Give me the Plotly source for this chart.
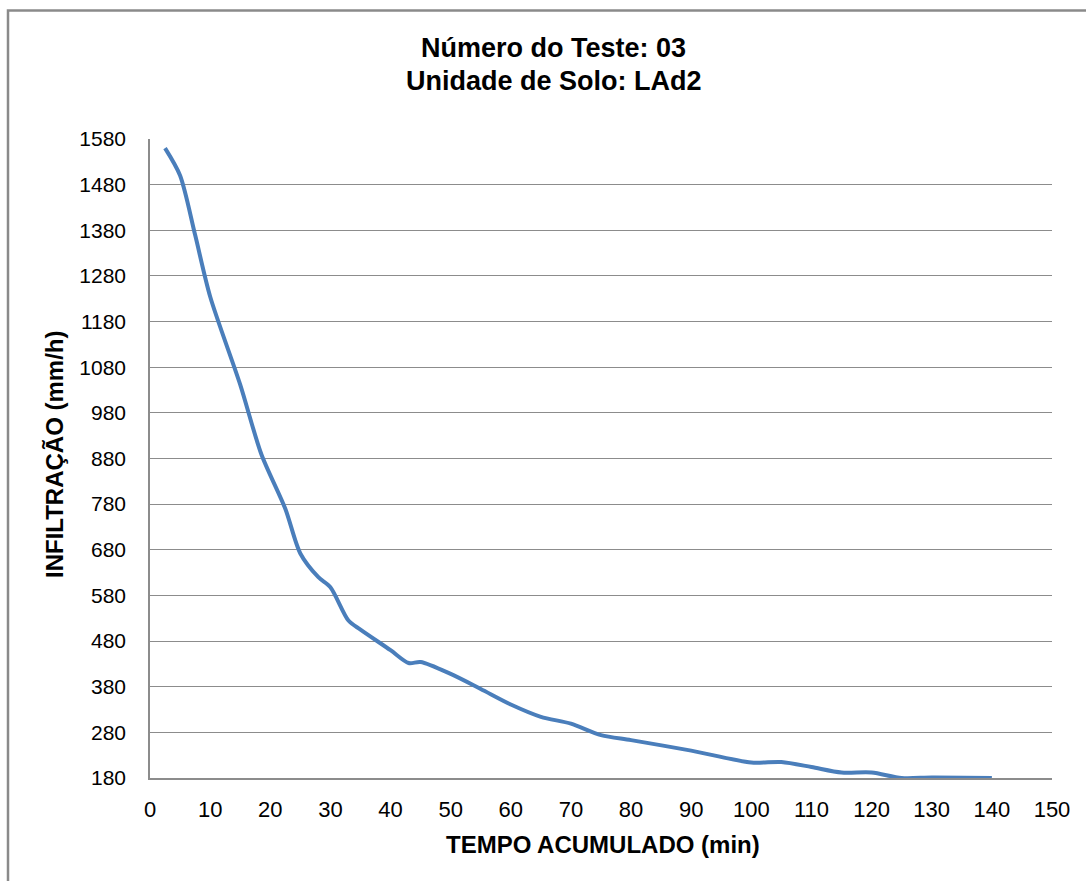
import plotly.graph_objects as go

tempo = [2.5, 5, 7.5, 10, 15, 18.5, 22.5, 25, 28, 30, 33, 35, 40, 43, 45, 50, 55, 60, 65, 70, 75, 80, 90, 100, 105, 110, 115, 120, 125, 130, 140]
infiltracao = [1560, 1500, 1370, 1235, 1042, 890, 770, 672, 620, 598, 525, 505, 460, 432, 434, 408, 375, 341, 314, 299, 274, 263, 240, 214, 215, 204, 192, 192, 180, 181, 180]

title_lines = ["Número do Teste: 03", "Unidade de Solo: LAd2"]
x_title = "TEMPO ACUMULADO (min)"
y_title = "INFILTRAÇÃO (mm/h)"

FONT = "Liberation Sans, Arial, sans-serif"

fig = go.Figure()
fig.add_trace(go.Scatter(
    x=tempo, y=infiltracao, mode="lines",
    line=dict(color="#4a7ebb", width=4, shape="spline", smoothing=0.8),
    showlegend=False, hoverinfo="x+y",
))

W, H = 1086, 881
ml, mr, mt, mb = 150, 34, 139, 103
pw, ph = W - ml - mr, H - mt - mb

def px(x):
    return (x - ml) / pw

def py(y):
    return (H - mb - y) / ph

annotations = [
    dict(text="<b>" + title_lines[0] + "</b>", x=px(553), y=py(48), xref="paper", yref="paper",
         xanchor="center", yanchor="middle", showarrow=False, font=dict(size=27, family=FONT)),
    dict(text="<b>" + title_lines[1] + "</b>", x=px(554), y=py(81), xref="paper", yref="paper",
         xanchor="center", yanchor="middle", showarrow=False, font=dict(size=27, family=FONT)),
    dict(text="<b>" + x_title + "</b>", x=px(603), y=py(844), xref="paper", yref="paper",
         xanchor="center", yanchor="middle", showarrow=False, font=dict(size=24, family=FONT)),
    dict(text="<b>" + y_title + "</b>", x=px(54), y=py(454), xref="paper", yref="paper",
         xanchor="center", yanchor="middle", showarrow=False, textangle=-90,
         font=dict(size=24, family=FONT)),
]

fig.update_layout(
    width=W, height=H,
    margin=dict(l=ml, r=mr, t=mt, b=mb),
    paper_bgcolor="white", plot_bgcolor="white",
    font=dict(family=FONT, color="#000000"),
    xaxis=dict(
        range=[0, 150], tick0=0, dtick=10, showgrid=False, zeroline=False,
        showline=True, linecolor="#8c8c8c", linewidth=1.5,
        ticks="", tickfont=dict(size=22), ticklabelstandoff=11,
    ),
    yaxis=dict(
        range=[180, 1580], tick0=180, dtick=100, showgrid=True, gridcolor="#8c8c8c",
        gridwidth=1.2, zeroline=False, showline=True, linecolor="#8c8c8c", linewidth=1.5,
        ticks="", tickfont=dict(size=21), ticklabelstandoff=18,
    ),
    annotations=annotations,
    shapes=[dict(
        type="rect", xref="paper", yref="paper",
        x0=px(8), x1=px(1110), y0=py(10.5), y1=py(920),
        line=dict(color="#8a8a8a", width=2.5), fillcolor="rgba(0,0,0,0)", layer="below",
    )],
)

fig.write_html("out.html", config={"displayModeBar": False},
               post_script="document.body.style.margin='0';document.body.style.overflow='hidden';")
